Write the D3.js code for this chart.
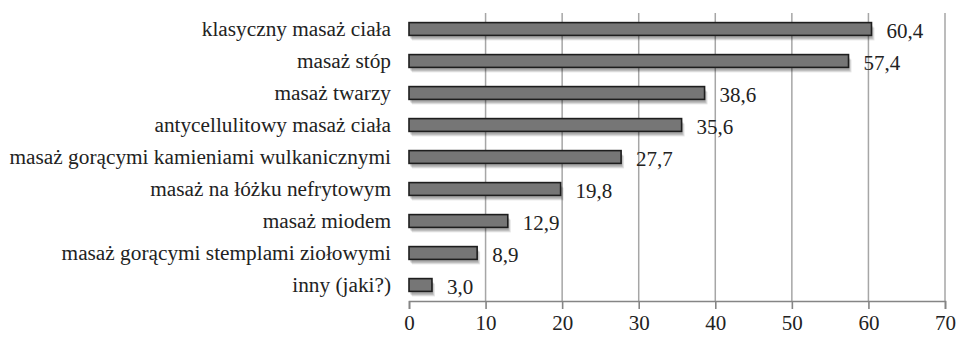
<!DOCTYPE html>
<html><head><meta charset="utf-8">
<script src="https://cdn.jsdelivr.net/npm/d3@7"></script>
<style>body{margin:0;background:#fff}svg{display:block}text{font-family:"Liberation Serif","Times New Roman",serif}</style>
</head><body>
<svg id="c" width="958" height="340"></svg>
<script>
const categories = ["klasyczny masaż ciała","masaż stóp","masaż twarzy","antycellulitowy masaż ciała","masaż gorącymi kamieniami wulkanicznymi","masaż na łóżku nefrytowym","masaż miodem","masaż gorącymi stemplami ziołowymi","inny (jaki?)"];
const values = [60.4,57.4,38.6,35.6,27.7,19.8,12.9,8.9,3.0];
const ticks = [0,10,20,30,40,50,60,70];

const svg = d3.select("#c");
const font = "Liberation Serif";
const x = d3.scaleLinear().domain([0,70]).range([409,945]);
const y = d3.scaleBand().domain(categories).range([13,301]).paddingInner(0.6).paddingOuter(0.3);

// gridlines
svg.append("g").selectAll("line").data(ticks.slice(1)).join("line")
  .attr("x1",d=>x(d)).attr("x2",d=>x(d)).attr("y1",13).attr("y2",301)
  .attr("stroke","#a6a6a6").attr("stroke-width",1.5);

// soft shadows (layered offset rects, no filter)
const shadowLayers = [{o:5,a:0.10},{o:4,a:0.12},{o:3,a:0.14}];
shadowLayers.forEach(s=>{
  svg.append("g").selectAll("rect").data(values).join("rect")
    .attr("x",x(0)+s.o-2).attr("y",(d,i)=>y(categories[i])+s.o)
    .attr("width",d=>x(d)-x(0)).attr("height",y.bandwidth())
    .attr("fill","#000").attr("fill-opacity",s.a);
});

// bars
svg.append("g").selectAll("rect").data(values).join("rect")
  .attr("x",x(0)).attr("y",(d,i)=>y(categories[i]))
  .attr("width",d=>x(d)-x(0)).attr("height",y.bandwidth())
  .attr("fill","#767676").attr("stroke","#1e1e1e").attr("stroke-width",1.6);

// axis
const ax = d3.axisBottom(x).tickValues(ticks).tickSize(8).tickPadding(6).tickFormat(d3.format("d"));
const g = svg.append("g").attr("transform","translate(0,301)").call(ax);
g.attr("font-family",null).attr("font-size",null);
g.select(".domain").attr("stroke","#858585").attr("stroke-width",1.6);
g.selectAll(".tick line").attr("stroke","#858585").attr("stroke-width",1.6);
g.selectAll(".tick text").style("font-family",font).style("font-size","21px").attr("fill","#222");

// category labels
svg.append("g").selectAll("text").data(categories).join("text")
  .attr("x",391).attr("y",d=>y(d)+y.bandwidth()/2).attr("dy","0.33em")
  .attr("text-anchor","end").style("font-family",font).style("font-size","21.3px").attr("fill","#222")
  .text(d=>d);

// value labels
const fmt = v => v.toFixed(1).replace(".",",");
svg.append("g").selectAll("text").data(values).join("text")
  .attr("x",d=>x(d)+15).attr("y",(d,i)=>y(categories[i])+y.bandwidth()/2+2).attr("dy","0.33em")
  .style("font-family",font).style("font-size","21px").attr("fill","#222")
  .text(fmt);
</script>
</body></html>
